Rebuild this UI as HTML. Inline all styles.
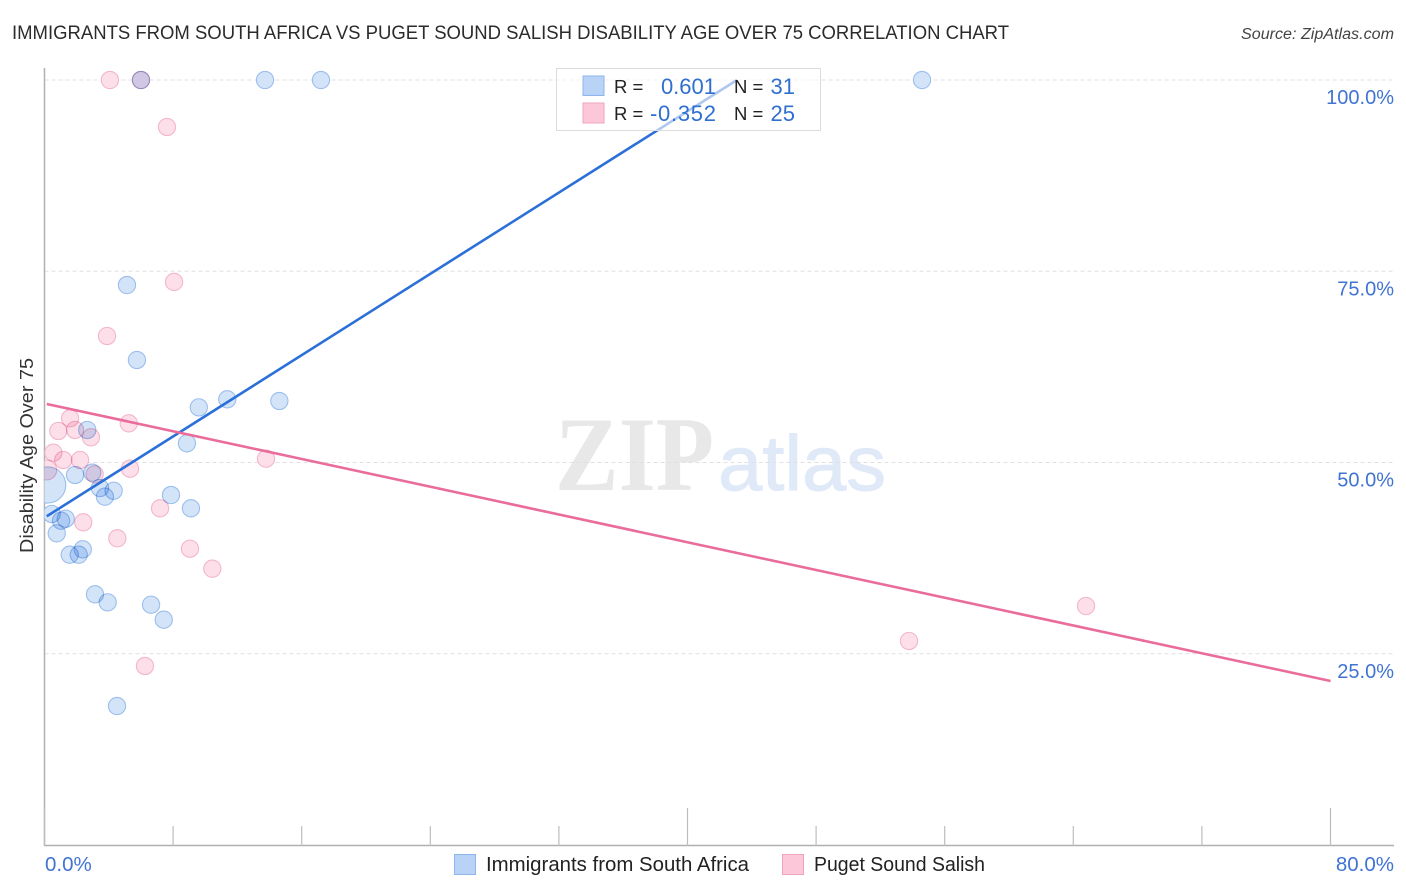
<!DOCTYPE html>
<html lang="en">
<head>
<meta charset="utf-8">
<title>Immigrants from South Africa vs Puget Sound Salish Disability Age Over 75 Correlation Chart</title>
<style>
html,body{margin:0;padding:0;background:#fff;width:1406px;height:892px;overflow:hidden}
svg{display:block;font-family:"Liberation Sans",sans-serif}
.pt{mix-blend-mode:multiply}
</style>
</head>
<body>
<svg id="chart" xmlns="http://www.w3.org/2000/svg" width="1406" height="892" viewBox="0 0 1406 892">
  <defs>
    <clipPath id="plot-clip"><rect x="44.5" y="60" width="1350" height="786"/></clipPath>
  </defs>
  <rect x="0" y="0" width="1406" height="892" fill="#fff"/>
  <text x="12" y="39" font-size="19.6" fill="#2b2b2b" textLength="997" lengthAdjust="spacingAndGlyphs">IMMIGRANTS FROM SOUTH AFRICA VS PUGET SOUND SALISH DISABILITY AGE OVER 75 CORRELATION CHART</text>
  <text x="1241" y="39" font-size="15.5" font-style="italic" fill="#444" textLength="153" lengthAdjust="spacingAndGlyphs">Source: ZipAtlas.com</text>

  <g>
    <text x="555" y="490" font-family="'Liberation Serif',serif" font-weight="bold" font-size="106" fill="#e8e8e8" textLength="159" lengthAdjust="spacingAndGlyphs">ZIP</text>
    <text x="718" y="490" font-family="'Liberation Sans',sans-serif" font-size="78" fill="#dfe9f8" stroke="#dfe9f8" stroke-width="1" textLength="168" lengthAdjust="spacingAndGlyphs">atlas</text>
  </g>

  <g id="grid"></g>
  <g id="axes"></g>
  <g id="points" clip-path="url(#plot-clip)"></g>
  <g id="lines"></g>
  <g id="ylabels"></g>
  <g id="xlabels"></g>

  <text transform="translate(33,553) rotate(-90)" font-size="18" fill="#333" textLength="195" lengthAdjust="spacingAndGlyphs">Disability Age Over 75</text>

  <g>
    <rect x="556.5" y="68.5" width="264" height="62" fill="#fff" fill-opacity="0.62" stroke="#dcdcdc" stroke-width="1"/>
    <rect x="583" y="76" width="21" height="19.5" fill="#b8d3f6" stroke="#8fb6ea" stroke-width="1"/>
    <rect x="583" y="103" width="21" height="20" fill="#fcc8d9" stroke="#efa3bd" stroke-width="1"/>
    <text x="614" y="93" font-size="18.5" fill="#222">R =</text>
    <text x="716" y="94" font-size="22" fill="#2f6fd0" text-anchor="end">0.601</text>
    <text x="734" y="93" font-size="18.5" fill="#222">N =</text>
    <text x="795" y="94" font-size="22" fill="#2f6fd0" text-anchor="end">31</text>
    <text x="614" y="120" font-size="18.5" fill="#222">R =</text>
    <text x="650" y="121" font-size="22" fill="#2f6fd0" textLength="66" lengthAdjust="spacing">-0.352</text>
    <text x="734" y="120" font-size="18.5" fill="#222">N =</text>
    <text x="795" y="121" font-size="22" fill="#2f6fd0" text-anchor="end">25</text>
  </g>

  <g>
    <rect x="454.5" y="854.5" width="21" height="20" fill="#b8d3f6" stroke="#8fb6ea" stroke-width="1"/>
    <text x="486" y="871" font-size="20" fill="#222" textLength="263" lengthAdjust="spacingAndGlyphs">Immigrants from South Africa</text>
    <rect x="782.5" y="854.5" width="21" height="20" fill="#fcc8d9" stroke="#efa3bd" stroke-width="1"/>
    <text x="814" y="871" font-size="20" fill="#222" textLength="171" lengthAdjust="spacingAndGlyphs">Puget Sound Salish</text>
  </g>
</svg>
<script>
var blueX = [6.00,13.72,17.20,54.59,5.13,5.75,9.60,11.37,14.61,2.66,8.86,2.97,1.90,3.45,4.30,3.76,7.87,9.11,0.20,0.45,1.32,1.03,0.76,2.38,1.57,2.13,3.14,3.93,6.63,7.42,4.51];
var blueY = [100,100,100,100,73.2,63.4,57.21,58.26,58.04,54.25,52.51,48.67,48.37,46.67,46.31,45.53,45.75,44.01,47.06,43.27,42.65,42.39,40.74,38.65,37.95,37.95,32.77,31.72,31.41,29.45,18.17];
var blueWeights = [1,1,1,1,1,1,1,1,1,1,1,1,1,1,1,1,1,1,2.1,1,1,1,1,1,1,1,1,1,1,1,1];
var pinkX = [4.07,6.00,7.62,8.06,3.89,1.59,5.24,0.86,1.90,2.89,0.55,1.17,2.21,0.14,5.32,3.12,13.78,7.19,2.41,4.53,9.05,10.44,6.25,53.78,64.79];
var pinkY = [100,100,93.86,73.6,66.54,55.78,55.12,54.12,54.25,53.29,51.28,50.33,50.33,49.02,49.19,48.46,50.5,44.01,42.18,40.09,38.73,36.12,23.4,26.67,31.24];
var pinkWeights = [1,1,1,1,1,1,1,1,1,1,1,1,1,1.15,1,1,1,1,1,1,1,1,1,1,1];
var blueTrendX = [0.14,43.08];
var blueTrendY = [42.97,100];
var pinkTrendX = [0.14,80];
var pinkTrendY = [57.65,21.44];
var yTicks = [100,75,50,25];
var xTicks = [0,8,16,24,32,40,48,56,64,72,80];
var xMajorTicks = [0,40,80];
var xLabelValues = [0,80];

var NS = 'http://www.w3.org/2000/svg';
function xScale(v){ return 44.5 + v * 16.075; }
function yScale(v){ return 80 + (100 - v) * 7.65; }
function make(tag, parent, attrs){
  var el = document.createElementNS(NS, tag);
  for (var k in attrs) el.setAttribute(k, attrs[k]);
  document.getElementById(parent).appendChild(el);
  return el;
}

yTicks.forEach(function(v){
  var g = make('line', 'grid', {x1:44.5, x2:1394, y1:yScale(v), y2:yScale(v), stroke:'#e0e0e0', 'stroke-width':1, 'stroke-dasharray':'4 3'});
  
  
  var t = make('text', 'ylabels', {x:1394, y:yScale(v) + 24, 'font-size':20, fill:'#4174d2', 'text-anchor':'end'});
  t.textContent = v.toFixed(1) + '%';
  
  
});

var yAxis = make('line', 'axes', {x1:44.5, x2:44.5, y1:68, y2:846, stroke:'#b0b0b0', 'stroke-width':1.5});


var xAxis = make('line', 'axes', {x1:44, x2:1394, y1:845.5, y2:845.5, stroke:'#b0b0b0', 'stroke-width':1.5});



xTicks.forEach(function(v){
  var major = xMajorTicks.indexOf(v) >= 0;
  var tick = make('line', 'axes', {x1:xScale(v), x2:xScale(v), y1:major ? 808 : 826, y2:846, stroke:'#bdbdbd', 'stroke-width':1.2});
  
  
});

xLabelValues.forEach(function(v, i){
  var t = make('text', 'xlabels', {x:i === 0 ? 45 : 1394, y:871, 'font-size':20.5, fill:'#4174d2', 'text-anchor':i === 0 ? 'start' : 'end'});
  t.textContent = v.toFixed(1) + '%';
  
  
});

function drawSeries(xs, ys, ws, fill, stroke, name){
  xs.forEach(function(x, i){
    var c = make('circle', 'points', {'class':'pt', cx:xScale(x), cy:yScale(ys[i]), r:8.6 * ws[i], fill:fill, stroke:stroke, 'stroke-width':1.1});
    
    
  });
}
drawSeries(blueX, blueY, blueWeights, '#d3e4f9', '#9bbeec', 'south-africa');
drawSeries(pinkX, pinkY, pinkWeights, '#fcdfe9', '#f3b6ca', 'puget-sound');

var blueLine = make('line', 'lines', {x1:xScale(blueTrendX[0]), y1:yScale(blueTrendY[0]), x2:xScale(blueTrendX[1]), y2:yScale(blueTrendY[1]), stroke:'#2b70d8', 'stroke-width':2.6});


var pinkLine = make('line', 'lines', {x1:xScale(pinkTrendX[0]), y1:yScale(pinkTrendY[0]), x2:xScale(pinkTrendX[1]), y2:yScale(pinkTrendY[1]), stroke:'#e96c9b', 'stroke-width':2.6});


</script>
</body>
</html>
